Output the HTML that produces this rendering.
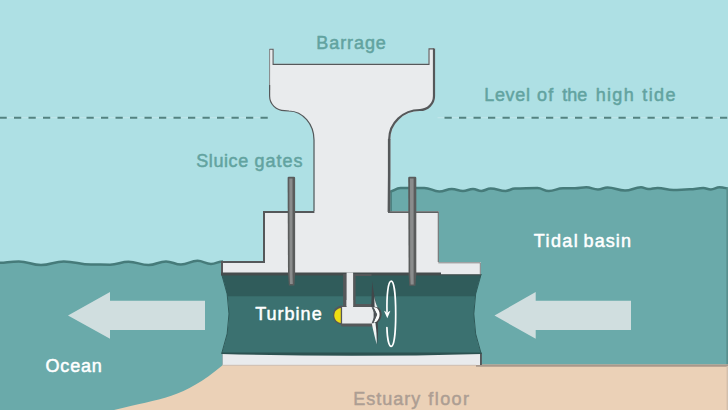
<!DOCTYPE html>
<html lang="en">
<head>
<meta charset="utf-8">
<title>Tidal barrage diagram</title>
<style>
html,body{margin:0;padding:0;background:#aee0e4;overflow:hidden}
body{width:728px;height:410px;font-family:"Liberation Sans",Arial,Helvetica,sans-serif}
svg{display:block}
</style>
</head>
<body>
<svg width="728" height="410" viewBox="0 0 728 410">
<rect width="728" height="410" fill="#aee0e4"/>
<!-- water -->
<path d="M-4.0,262.9 C5.6,262.9 9.2,261.4 18.8,261.4 C28.1,261.4 31.7,265.0 41.0,265.0 C50.6,265.0 54.2,261.4 63.8,261.4 C75.2,261.4 79.6,264.5 91.0,264.5 C99.0,264.5 102.0,264.7 110.0,264.7 C117.8,264.7 120.7,261.8 128.5,261.8 C136.9,261.8 140.1,265.0 148.5,265.0 C155.8,265.0 158.7,261.4 166.0,261.4 C172.3,261.4 174.7,264.6 181.0,264.6 C187.9,264.6 190.6,260.8 197.5,260.8 C203.2,260.8 205.3,263.9 211.0,263.9 C216.0,263.9 218.0,261.4 223.0,261.4 L223,270 L232,270 L232,410 L-4,410 Z" fill="#6aaaaa"/>
<path d="M-4.0,262.9 C5.6,262.9 9.2,261.4 18.8,261.4 C28.1,261.4 31.7,265.0 41.0,265.0 C50.6,265.0 54.2,261.4 63.8,261.4 C75.2,261.4 79.6,264.5 91.0,264.5 C99.0,264.5 102.0,264.7 110.0,264.7 C117.8,264.7 120.7,261.8 128.5,261.8 C136.9,261.8 140.1,265.0 148.5,265.0 C155.8,265.0 158.7,261.4 166.0,261.4 C172.3,261.4 174.7,264.6 181.0,264.6 C187.9,264.6 190.6,260.8 197.5,260.8 C203.2,260.8 205.3,263.9 211.0,263.9 C216.0,263.9 218.0,261.4 223.0,261.4" fill="none" stroke="#467b7a" stroke-width="2.5"/>
<path d="M388.0,192.0 C393.2,192.0 395.2,188.1 400.5,188.1 C410.5,188.1 414.3,187.9 424.3,187.9 C430.6,187.9 433.0,191.5 439.3,191.5 C444.6,191.5 446.6,189.0 451.8,189.0 C456.5,189.0 458.3,191.0 463.0,191.0 C467.2,191.0 468.8,189.0 473.0,189.0 C476.5,189.0 477.8,191.0 481.3,191.0 C485.2,191.0 486.7,188.5 490.6,188.5 C496.9,188.5 499.3,191.0 505.6,191.0 C509.5,191.0 511.1,188.5 515.0,188.5 C524.5,188.5 528.0,188.1 537.5,188.1 C542.2,188.1 544.1,191.0 548.8,191.0 C554.8,191.0 557.0,188.3 563.0,188.3 C568.0,188.3 570.0,188.3 575.0,188.3 C579.7,188.3 581.6,187.3 586.3,187.3 C591.2,187.3 593.1,189.5 598.0,189.5 C602.0,189.5 603.5,187.5 607.5,187.5 C614.9,187.5 617.6,190.6 625.0,190.6 C631.7,190.6 634.3,187.3 641.0,187.3 C644.1,187.3 645.2,189.0 648.3,189.0 C652.2,189.0 653.7,187.9 657.6,187.9 C664.2,187.9 666.7,190.0 673.3,190.0 C680.1,190.0 682.7,189.3 689.5,189.3 C695.3,189.3 697.5,188.1 703.3,188.1 C706.4,188.1 707.6,189.4 710.8,189.4 C714.5,189.4 715.8,187.3 719.5,187.3 C724.8,187.3 726.8,189.0 732.0,189.0 L732,410 L388,410 Z" fill="#6aaaaa"/>
<path d="M388.0,192.0 C393.2,192.0 395.2,188.1 400.5,188.1 C410.5,188.1 414.3,187.9 424.3,187.9 C430.6,187.9 433.0,191.5 439.3,191.5 C444.6,191.5 446.6,189.0 451.8,189.0 C456.5,189.0 458.3,191.0 463.0,191.0 C467.2,191.0 468.8,189.0 473.0,189.0 C476.5,189.0 477.8,191.0 481.3,191.0 C485.2,191.0 486.7,188.5 490.6,188.5 C496.9,188.5 499.3,191.0 505.6,191.0 C509.5,191.0 511.1,188.5 515.0,188.5 C524.5,188.5 528.0,188.1 537.5,188.1 C542.2,188.1 544.1,191.0 548.8,191.0 C554.8,191.0 557.0,188.3 563.0,188.3 C568.0,188.3 570.0,188.3 575.0,188.3 C579.7,188.3 581.6,187.3 586.3,187.3 C591.2,187.3 593.1,189.5 598.0,189.5 C602.0,189.5 603.5,187.5 607.5,187.5 C614.9,187.5 617.6,190.6 625.0,190.6 C631.7,190.6 634.3,187.3 641.0,187.3 C644.1,187.3 645.2,189.0 648.3,189.0 C652.2,189.0 653.7,187.9 657.6,187.9 C664.2,187.9 666.7,190.0 673.3,190.0 C680.1,190.0 682.7,189.3 689.5,189.3 C695.3,189.3 697.5,188.1 703.3,188.1 C706.4,188.1 707.6,189.4 710.8,189.4 C714.5,189.4 715.8,187.3 719.5,187.3 C724.8,187.3 726.8,189.0 732.0,189.0" fill="none" stroke="#467b7a" stroke-width="2.5"/>
<rect x="726.4" y="188" width="1.6" height="177" fill="#588f8e"/>
<!-- floor -->
<path d="M728,364.5 L222.6,364.5 L222.6,365.3 C182.6,399 161,398.3 112,410.5 L112,411 L728,411 Z" fill="#ebd1b7"/>
<path d="M476,365.6 H728" stroke="#a9988b" stroke-width="2.3" fill="none"/>
<rect x="726.6" y="366" width="1.4" height="44" fill="#d3bfab"/>
<!-- dashed line -->
<path d="M0,117.7 H268 M437.5,117.7 H728" stroke="#c3e7ea" stroke-width="1" fill="none"/>
<path d="M-0.5,117.7 H267.75" stroke="#548381" stroke-width="2.1" stroke-dasharray="7.25 7.25" fill="none"/>
<path d="M444.5,117.7 H728" stroke="#548381" stroke-width="2.1" stroke-dasharray="7.25 7.25" fill="none"/>
<!-- channel -->
<path id="ch" d="M221.6,274 H481.2 A115,115 0 0 0 481.2,353.8 H221.6 A115,115 0 0 0 221.6,274 Z" fill="#3b7170"/>
<clipPath id="cc"><path d="M221.6,274 H481.2 A115,115 0 0 0 481.2,353.8 H221.6 A115,115 0 0 0 221.6,274 Z"/></clipPath>
<rect x="220" y="274" width="263" height="22.3" fill="#305c5b" clip-path="url(#cc)"/>
<path d="M481.2,274 A115,115 0 0 0 481.2,353.8 M221.6,353.8 A115,115 0 0 0 221.6,274" fill="none" stroke="#2f5a59" stroke-width="1"/>
<!-- bottom slab -->
<rect x="222.6" y="353" width="259.3" height="12" fill="#55585a"/>
<rect x="222.6" y="353" width="257.4" height="12" fill="#e9ebed"/>
<path d="M223,365.3 H476" stroke="#cdbfb3" stroke-width="1" fill="none"/>
<path d="M221.8,352.4 H481.6 V353.9 Q351.5,357.6 221.8,353.9 Z" fill="#2d5251"/>
<!-- barrage -->
<path d="M269.2,48.7 H273.6 V63.8 H428.5 V48.2 H435 V96 A15,15 0 0 1 420,111 A29.7,28.5 0 0 0 390.3,139.5 V211.2 H438.8 V262 H480.7 V274.6 H221 V261 H263 V211 H314.4 V140 A25.5,29 0 0 0 289,111 L284.5,110.7 A15.3,15 0 0 1 269.2,96 Z" fill="#e9ebed"/>
<g fill="none" stroke="#55585a" stroke-linejoin="miter">
<path d="M269.6,49.2 V90" stroke-width="0.9" stroke="#777b7c"/>
<path d="M269.6,85 V96 A14.9,14.7 0 0 0 284.5,110.7 L289,111 A25.5,29 0 0 1 314,140 V211" stroke-width="1.2"/>
<path d="M269.5,49.2 H273.1 V64.4 H429 V48.9 H434" stroke-width="1.1"/>
<path d="M434,48.5 V96 A14,14 0 0 1 420,110 A30.7,29.5 0 0 0 389.2,139.5" stroke-width="2.2"/>
<path d="M391.1,190.5 V211.3" stroke-width="1.6" stroke="#4a7f7e"/>
<path d="M389.2,139 V175 L388.9,212" stroke-width="2.6"/>
<path d="M314.4,212 H264 V262 H222 V274" stroke-width="2"/>
<path d="M388,212.1 H438.3" stroke-width="1.7" stroke="#5e6162"/>
<path d="M438.3,211.5 V262" stroke-width="1.1" stroke="#6a6d6e"/>
<path d="M438.3,262.8 H480.3 V274" stroke-width="1" stroke="#808384"/>
<path d="M221,274 H441" stroke-width="2.8" stroke="#454c4d"/>
<path d="M441,274.9 H481" stroke-width="1" stroke="#454c4d"/>
</g>
<!-- turbine stem -->
<path d="M343.1,274 H371.5 V276 H355.6 V304 H372 V307 H343.1 Z" fill="#55585a"/>
<rect x="346.6" y="272.5" width="6.5" height="36" fill="#e9ebed"/>
<!-- turbine body -->
<path d="M342.2,305.6 C337,305.6 333,310 333,315.3 C333,320.5 337,324.8 342.2,324.8 Z" fill="#55585a"/>
<path d="M341,308 C337.3,308.4 334.3,311.3 334.3,315.4 C334.3,319.5 337.3,322.6 341,323 Z" fill="#eedd12"/>
<path d="M340.8,306 H373 C378,305.6 381.6,309.5 381.6,314 C381.6,319 378.5,323 374,324.2 L373.8,326.6 H343 C341.6,326.6 340.8,325.8 340.8,324.5 Z" fill="#55585a"/>
<path d="M342.1,306.9 H372.5 C376.5,306.9 379.3,310 379.3,314 C379.3,318 376.5,321.5 372.5,322.2 V323.4 H342.1 Z" fill="#e9ebed"/>
<rect x="346.6" y="300" width="6.5" height="10" fill="#e9ebed"/>
<!-- blades -->
<path d="M372.2,281.2 C373.3,290 374.6,299 377,306.8 L371.2,306.8 C371.6,298 371.8,290 372.2,281.2 Z" fill="#41474a"/>
<path d="M374.3,296.5 C374.9,300.5 376,304.5 377.9,308 L374.6,307.2 Z" fill="#e9edee"/>
<path d="M373.6,306.4 L378.4,307.6 C380.4,309.4 381.4,311.8 381.4,314.4 C381.4,317.6 379.8,320.6 377.4,322.6 L373.6,324.4 Z" fill="#474c4e"/>
<path d="M373.2,306.9 L376.6,307.8 C378.6,309.6 379.6,311.9 379.6,314.4 C379.6,317.2 378.4,319.8 376.4,321.7 L373.2,323.2 L377,314.6 Z" fill="#fbfcfc"/>
<path d="M371.6,307.2 L373.4,307 L377.2,314.6 L373.4,323.2 L371.6,323.2 L375,314.8 Z" fill="#50565a"/>
<path d="M375.2,322.6 L377.7,322 C378.5,330 378,338 376.9,345.6 C376.9,337 376.4,330 375.2,322.6 Z" fill="#41474a"/>
<path d="M371.8,323.4 L375.4,322.8 C376.4,330 376.8,337 376.7,344.6 C375,338 373.2,330.5 371.8,323.4 Z" fill="#f1f4f4"/>
<!-- rotation ellipse -->
<path d="M387,311.5 C386.6,296 388,281.2 391.2,281.2 C394.3,281.2 395.7,297 395.7,314 C395.7,331 394.3,346.4 391.2,346.4 C388.6,346.4 387.2,337 386.9,327.5" fill="none" stroke="#ffffff" stroke-width="1.7" stroke-linecap="round"/>
<path d="M384,310.8 L387.2,312.6 L390.4,310.8 L387.3,318.2 Z" fill="#ffffff"/>
<!-- rods -->
<path d="M287.6,178 a1.2,1.2 0 0 1 1.2,-1.2 h5.1 a1.2,1.2 0 0 1 1.2,1.2 V274 L294.4,285.4 H288.9 L288,274 Z" fill="#5a5c5c"/>
<path d="M289.3,178.6 h3.2 V274 L292.8,284 H290 L289.6,274 Z" fill="#8a8c8c"/>
<path d="M408.2,178 a1.2,1.2 0 0 1 1.2,-1.2 h5.7 a1.2,1.2 0 0 1 1.2,1.2 V274 L415.4,285.8 H409.3 L408.6,274 Z" fill="#5a5c5c"/>
<path d="M410,178.6 h3.6 V274 L413.7,284.4 H410.6 L410.2,274 Z" fill="#8a8c8c"/>
<!-- arrows -->
<path d="M68,315.5 L110,292 V300.8 H205 V330 H110 V338.8 Z" fill="#d0dedf"/>
<path d="M494.5,315.5 L535.7,292 V300.8 H631 V330 H535.7 V338.8 Z" fill="#d0dedf"/>
<!-- labels -->
<g font-family="'Liberation Sans', Arial, Helvetica, sans-serif" font-size="18px" stroke-width="0.5" stroke-linejoin="round">
<text y="49" fill="#62a3a0" stroke="#62a3a0"><tspan x="316.33" letter-spacing="0.92">Barrage</tspan></text>
<text y="101.3" fill="#62a3a0" stroke="#62a3a0"><tspan x="484.24" letter-spacing="0.663">Level</tspan> <tspan x="536.9" letter-spacing="1.45">of</tspan> <tspan x="562.25" letter-spacing="0.05">the</tspan> <tspan x="595.65" letter-spacing="1.322">high</tspan> <tspan x="642.23" letter-spacing="1.45">tide</tspan></text>
<text y="167.2" fill="#62a3a0" stroke="#62a3a0"><tspan x="196.28" letter-spacing="0.574">Sluice</tspan> <tspan x="254.57" letter-spacing="0.973">gates</tspan></text>
<text y="247.3" fill="#ffffff" stroke="#ffffff"><tspan x="533.77" letter-spacing="1.423">Tidal</tspan> <tspan x="583.57" letter-spacing="1.086">basin</tspan></text>
<text y="319.5" fill="#ffffff" stroke="#ffffff"><tspan x="255.27" letter-spacing="1.002">Turbine</tspan></text>
<text y="371.6" fill="#ffffff" stroke="#ffffff"><tspan x="45.49" letter-spacing="0.832">Ocean</tspan></text>
<text y="405" fill="#ad9e93" stroke="#ad9e93"><tspan x="353.33" letter-spacing="0.976">Estuary</tspan> <tspan x="428.24" letter-spacing="1.45">floor</tspan></text>
</g>
</svg>
</body>
</html>
